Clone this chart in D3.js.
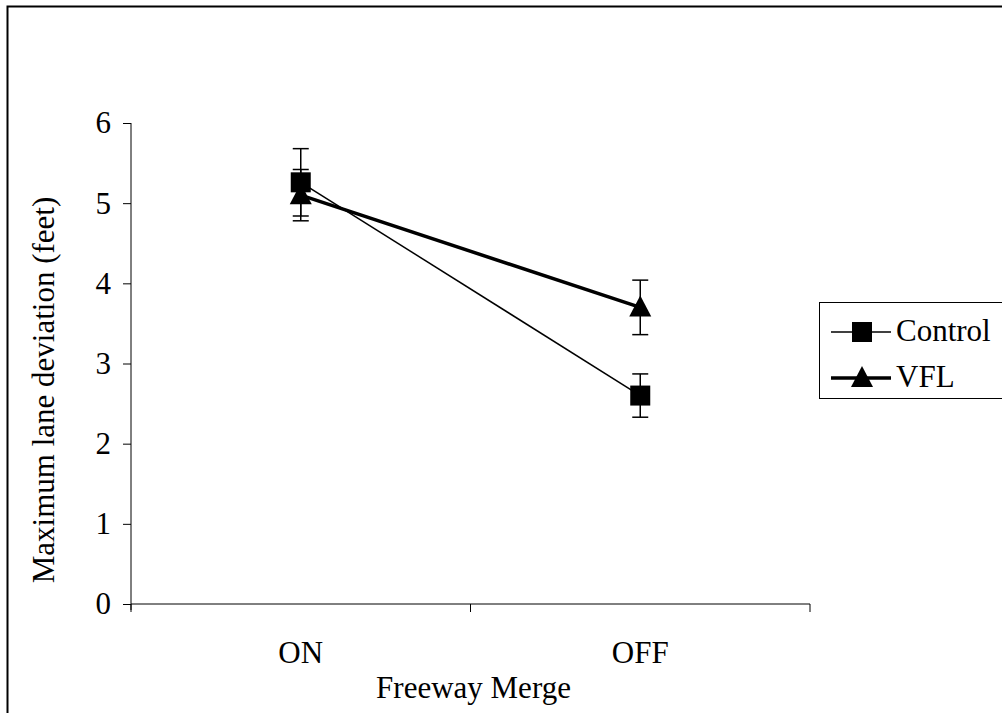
<!DOCTYPE html>
<html>
<head>
<meta charset="utf-8">
<script src="https://cdn.jsdelivr.net/npm/d3@7"></script>
<style>
  body { margin: 0; background: #fff; }
</style>
</head>
<body>
<div id="chart"></div>
<script>
// data
var categories = ["ON", "OFF"];
var seriesNames = ["Control", "VFL"];
var controlMeans = [5.26, 2.6];
var controlErr = [0.42, 0.27];
var vflMeans = [5.1, 3.7];
var vflErr = [0.32, 0.34];
var yTicks = [0, 1, 2, 3, 4, 5, 6];

var width = 1002, height = 713;
var margin = {left: 131, right: 192, top: 123, bottom: 109};
var FONT = "'Liberation Serif', 'Times New Roman', serif";
var FS = "31px";

var svg = d3.select("#chart").append("svg")
    .attr("width", width)
    .attr("height", height);

// outer frame (chart area border)
svg.append("rect")
    .attr("x", 7.5).attr("y", 6.5)
    .attr("width", 1010).attr("height", 720)
    .attr("fill", "none").attr("stroke", "#000").attr("stroke-width", 2);

var x = d3.scaleBand()
    .domain(categories)
    .range([margin.left, width - margin.right]);

var y = d3.scaleLinear()
    .domain([0, 6])
    .range([height - margin.bottom, margin.top]);

function txt(sel) {
  return sel.style("font-family", FONT).style("font-size", FS).attr("fill", "#000");
}

// y axis
var yAxis = svg.append("g")
    .attr("transform", "translate(" + margin.left + ",0)")
    .call(d3.axisLeft(y).tickValues(yTicks).tickSize(8).tickPadding(12).tickFormat(d3.format("d")));
txt(yAxis.selectAll("text"));
yAxis.select(".domain").attr("d", "M0," + y(6) + "V" + (y(0) + 6));

// x axis
var xAxis = svg.append("g")
    .attr("transform", "translate(0," + y(0) + ")");
xAxis.append("line")
    .attr("x1", margin.left).attr("x2", width - margin.right)
    .attr("stroke", "#000");
var edges = [margin.left].concat(categories.map(function(c) { return x(c) + x.bandwidth(); }));
xAxis.selectAll(".xt").data(edges).enter().append("line")
    .attr("x1", function(d) { return d; }).attr("x2", function(d) { return d; })
    .attr("y1", 0).attr("y2", 8).attr("stroke", "#000");
txt(xAxis.selectAll(".xl").data(categories).enter().append("text")
    .attr("x", function(d) { return x(d) + x.bandwidth() / 2; })
    .attr("y", 59)
    .attr("text-anchor", "middle")
    .text(function(d) { return d; }));

// axis titles
txt(svg.append("text")
    .attr("x", (margin.left + width - margin.right) / 2 + 3)
    .attr("y", 698)
    .attr("text-anchor", "middle")
    .text("Freeway Merge"));

txt(svg.append("text")
    .attr("transform", "translate(54,390)rotate(-90)")
    .attr("text-anchor", "middle")
    .text("Maximum lane deviation (feet)"));

var series = [
  {name: seriesNames[0], means: controlMeans, err: controlErr, width: 1.5, shape: "square"},
  {name: seriesNames[1], means: vflMeans, err: vflErr, width: 3.5, shape: "triangle"}
];

var cx = function(i) { return x(categories[i]) + x.bandwidth() / 2; };

function marker(g, shape) {
  if (shape === "square") {
    g.append("rect").attr("x", -10).attr("y", -10).attr("width", 20).attr("height", 20).attr("fill", "#000");
  } else {
    g.append("path").attr("d", "M0,-12L11,9L-11,9Z").attr("fill", "#000");
  }
}

series.forEach(function(s) {
  // error bars
  s.means.forEach(function(m, i) {
    var eb = svg.append("g").attr("stroke", "#000").attr("stroke-width", 1.5);
    eb.append("line").attr("x1", cx(i)).attr("x2", cx(i))
        .attr("y1", y(m + s.err[i])).attr("y2", y(m - s.err[i]));
    [m + s.err[i], m - s.err[i]].forEach(function(v) {
      eb.append("line").attr("x1", cx(i) - 8).attr("x2", cx(i) + 8)
          .attr("y1", y(v)).attr("y2", y(v));
    });
  });
});

series.forEach(function(s) {
  var line = d3.line()
      .x(function(d, i) { return cx(i); })
      .y(function(d) { return y(d); });
  svg.append("path")
      .datum(s.means)
      .attr("d", line)
      .attr("fill", "none")
      .attr("stroke", "#000")
      .attr("stroke-width", s.width);
  s.means.forEach(function(m, i) {
    marker(svg.append("g").attr("transform", "translate(" + cx(i) + "," + y(m) + ")"), s.shape);
  });
});

// legend
var legend = svg.append("g");
legend.append("rect")
    .attr("x", 819.5).attr("y", 302.5)
    .attr("width", 200).attr("height", 96)
    .attr("fill", "#fff").attr("stroke", "#000").attr("stroke-width", 1);
series.forEach(function(s, i) {
  var ly = 332 + i * 46;
  legend.append("line")
      .attr("x1", 831).attr("x2", 891).attr("y1", ly).attr("y2", ly)
      .attr("stroke", "#000").attr("stroke-width", s.width);
  marker(legend.append("g").attr("transform", "translate(862," + ly + ")"), s.shape);
  txt(legend.append("text")
      .attr("x", 896).attr("y", ly + 9)
      .text(s.name));
});
</script>
</body>
</html>
